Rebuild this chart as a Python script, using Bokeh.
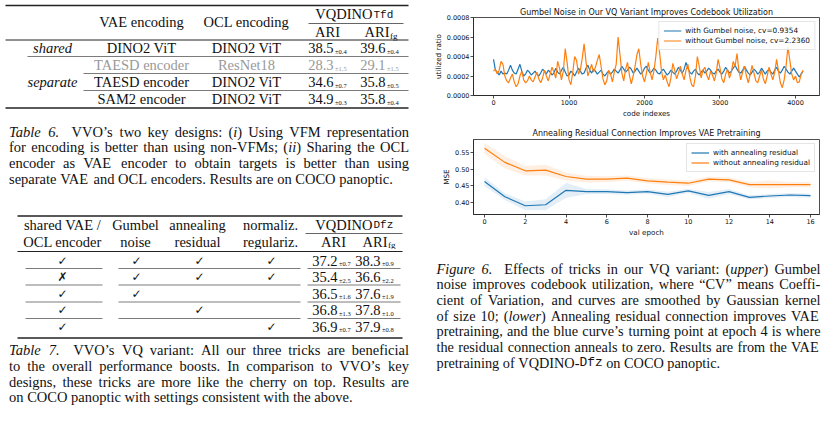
import numpy as np
from bokeh.plotting import figure
from bokeh.models import Range1d, FixedTicker, PrintfTickFormatter
from bokeh.layouts import row, column
from bokeh.core.properties import value
from bokeh.embed import file_html
from bokeh.resources import INLINE

# ---------------- data ----------------
t6_vae = ["DINO2 ViT", "TAESD encoder", "TAESD encoder", "SAM2 encoder"]
t6_ocl = ["DINO2 ViT", "ResNet18", "DINO2 ViT", "DINO2 ViT"]
t6_ari = [38.5, 28.3, 34.6, 34.9]
t6_ari_sd = [0.4, 1.5, 0.7, 0.3]
t6_arifg = [39.6, 29.1, 35.8, 35.8]
t6_arifg_sd = [0.4, 1.5, 0.5, 0.4]

t7_shared = [True, False, True, True, True]
t7_gumbel = [True, True, True, False, False]
t7_anneal = [True, True, False, True, False]
t7_norm = [True, True, False, False, True]
t7_ari = [37.2, 35.4, 36.5, 36.8, 36.9]
t7_ari_sd = [0.7, 2.5, 1.6, 1.3, 0.7]
t7_arifg = [38.3, 36.6, 37.6, 37.8, 37.9]
t7_arifg_sd = [0.9, 2.2, 1.9, 1.0, 0.8]

# Gumbel chart: code index and utilized ratio (units of 1e-4)
code_idx = list(range(0, 4101, 25))
with_gumbel = [3.7, 2.6, 2.4, 2.1, 2.5, 2.2, 2.3, 2.2, 2.6, 3.1, 2.6, 2.3, 2.2, 2.7, 3.2, 2.5, 2.0, 2.2, 2.6, 2.4,
               2.1, 2.3, 2.5, 2.2, 2.0, 2.3, 2.7, 2.5, 2.2, 2.6, 2.4, 2.1, 2.3, 2.8, 2.4, 2.2, 2.6, 2.9, 2.4, 2.0,
               2.1, 2.5, 2.3, 2.0, 2.4, 2.8, 2.5, 2.2, 2.3, 2.8, 3.1, 2.6, 2.3, 2.7, 2.5, 2.2, 2.4, 2.6, 2.2, 2.0,
               2.3, 2.5, 2.2, 2.4, 2.7, 2.5, 2.3, 2.6, 3.0, 2.7, 2.4, 2.6, 2.9, 2.7, 2.3, 2.5, 2.8, 2.5, 2.2, 2.4,
               2.8, 3.0, 2.6, 2.3, 2.5, 2.8, 2.6, 2.3, 2.2, 2.5, 2.7, 2.4, 2.1, 2.3, 2.6, 2.4, 2.2, 2.5, 2.9, 2.6,
               2.3, 2.7, 3.4, 2.8, 2.4, 2.2, 2.5, 2.7, 2.3, 2.1, 2.4, 2.6, 2.3, 2.5, 2.8, 2.6, 2.3, 2.2, 2.5, 2.7,
               2.4, 2.2, 2.5, 2.9, 2.6, 2.3, 2.5, 2.8, 3.1, 2.7, 2.4, 2.3, 2.6, 3.0, 2.6, 2.3, 2.1, 2.4, 2.7, 2.5,
               2.2, 2.4, 2.8, 2.5, 2.2, 2.5, 2.7, 2.4, 2.2, 2.6, 2.9, 2.5, 2.3, 2.6, 3.0, 2.7, 2.4, 2.2, 2.5, 2.8,
               2.5, 2.2, 1.9, 2.2, 2.5]
without_gumbel = [2.5, 2.7, 2.2, 2.6, 3.5, 3.2, 2.0, 1.5, 1.3, 1.8, 2.2, 1.4, 0.9, 1.2, 2.0, 2.5, 1.6, 1.3, 1.5, 2.0,
                  1.6, 1.4, 1.9, 2.4, 1.7, 1.3, 1.8, 2.6, 2.0, 1.5, 2.2, 2.9, 2.4, 1.8, 3.5, 2.8, 1.6, 2.5, 4.8, 3.4,
                  1.6, 1.1, 2.4, 4.0, 3.6, 2.2, 2.6, 3.8, 5.3, 3.5, 2.0, 2.6, 3.2, 2.4, 2.9, 3.6, 4.2, 3.0, 1.7, 1.1,
                  1.5, 2.6, 2.2, 1.4, 2.4, 3.2, 6.0, 4.2, 2.3, 1.5, 2.7, 3.4, 2.1, 1.2, 2.0, 3.0, 4.2, 4.8, 3.2, 2.0,
                  1.4, 2.3, 3.4, 2.4, 1.6, 2.5, 4.0, 5.9, 4.4, 2.5, 1.6, 2.1, 1.4, 0.9, 1.8, 3.3, 2.6, 1.7, 2.3, 3.0,
                  2.2, 1.6, 2.6, 3.2, 1.9, 1.1, 0.9, 2.0, 4.0, 3.0, 1.8, 2.6, 2.9, 2.1, 1.6, 2.5, 2.1, 1.5, 2.3, 3.7,
                  2.8, 1.7, 1.3, 2.2, 2.7, 1.8, 2.4, 3.5, 3.0, 4.3, 2.6, 1.6, 2.4, 3.0, 2.0, 1.3, 2.2, 3.1, 2.3, 1.5,
                  1.3, 2.0, 2.6, 1.7, 1.2, 2.0, 2.9, 2.2, 1.6, 2.4, 3.7, 2.5, 1.3, 0.8, 1.6, 3.0, 5.0, 3.6, 2.2, 1.6,
                  2.0, 1.3, 1.4, 2.2, 2.6]

# Annealing chart
epochs = list(range(17))
mse_with = [0.463, 0.418, 0.391, 0.394, 0.437, 0.433, 0.433, 0.430, 0.433, 0.425, 0.435, 0.422, 0.433, 0.416, 0.420, 0.423, 0.421]
mse_with_sd = [0.013, 0.010, 0.013, 0.016, 0.022, 0.008, 0.007, 0.006, 0.006, 0.008, 0.006, 0.010, 0.008, 0.006, 0.006, 0.006, 0.006]
mse_without = [0.562, 0.520, 0.495, 0.497, 0.478, 0.470, 0.470, 0.473, 0.465, 0.461, 0.458, 0.470, 0.468, 0.454, 0.454, 0.454, 0.454]
mse_without_sd = [0.016, 0.018, 0.014, 0.016, 0.012, 0.010, 0.009, 0.008, 0.008, 0.008, 0.008, 0.007, 0.007, 0.008, 0.012, 0.008, 0.008]

cap_t6 = ["*Table 6.*  VVO’s two key designs: (*i*) Using VFM representation",
          "for encoding is better than using non-VFMs; (*ii*) Sharing the OCL",
          "encoder as VAE encoder to obtain targets is better than using",
          "separate VAE and OCL encoders. Results are on COCO panoptic."]
cap_t7 = ["*Table 7.*  VVO’s VQ variant: All our three tricks are beneficial",
          "to the overall performance boosts. In comparison to VVO’s key",
          "designs, these tricks are more like the cherry on top. Results are",
          "on COCO panoptic with settings consistent with the above."]
cap_f6 = ["*Figure 6.*  Effects of tricks in our VQ variant: (*upper*) Gumbel",
          "noise improves codebook utilization, where “CV” means Coeffi-",
          "cient of Variation, and curves are smoothed by Gaussian kernel",
          "of size 10; (*lower*) Annealing residual connection improves VAE",
          "pretraining, and the blue curve’s turning point at epoch 4 is where",
          "the residual connection anneals to zero. Results are from the VAE",
          "pretraining of VQDINO-`Dfz` on COCO panoptic."]

# ---------------- text helpers ----------------
SERIF = "Liberation Serif"
MONO = "Liberation Mono"
SANS = "DejaVu Sans"
INK = "#111111"
FS = 14.5
SPLIT = 249  # page y where the upper row ends and the full-width lower band starts

ROMAN = {' ': .25, '!': .333, '"': .408, "'": .18, '(': .333, ')': .333, '+': .564, ',': .25, '-': .333, '.': .25,
         '/': .278, ':': .278, ';': .278, '?': .444, 'A': .722, 'B': .667, 'C': .667, 'D': .722, 'E': .611, 'F': .556,
         'G': .722, 'H': .722, 'I': .333, 'J': .389, 'K': .722, 'L': .611, 'M': .889, 'N': .722, 'O': .722, 'P': .556,
         'Q': .722, 'R': .667, 'S': .556, 'T': .611, 'U': .722, 'V': .722, 'W': .944, 'X': .722, 'Y': .722, 'Z': .611,
         'a': .444, 'b': .5, 'c': .444, 'd': .5, 'e': .444, 'f': .333, 'g': .5, 'h': .5, 'i': .278, 'j': .278, 'k': .5,
         'l': .278, 'm': .778, 'n': .5, 'o': .5, 'p': .5, 'q': .5, 'r': .333, 's': .389, 't': .278, 'u': .5, 'v': .5,
         'w': .722, 'x': .5, 'y': .5, 'z': .444, '“': .444, '”': .444, '’': .333, '‘': .333, '±': .564}
ITAL = {' ': .25, '.': .25, ',': .25, '(': .333, ')': .333, 'F': .611, 'T': .556, 'a': .5, 'b': .5, 'c': .444,
        'd': .5, 'e': .444, 'f': .278, 'g': .5, 'h': .5, 'i': .278, 'k': .444, 'l': .278, 'm': .722, 'n': .5, 'o': .5,
        'p': .5, 'r': .389, 's': .389, 't': .278, 'u': .5, 'w': .667}


class Store:
    """Collects texts and rules, routing each to the upper-left or lower band figure by page y."""
    def __init__(self):
        self.d = {}
        self.segs = []

    def add(self, x, y, t, font=SERIF, style="normal", size=FS, color=INK, align="left"):
        part = "top" if y < SPLIT else "bottom"
        key = (part, font, style, size, color, align)
        xs, ys, ts = self.d.setdefault(key, ([], [], []))
        xs.append(x); ys.append(y); ts.append(t)

    def rule(self, x0, x1, y, w):
        self.segs.append(("top" if y < SPLIT else "bottom", x0, x1, y, w))

    def render(self, figs):
        for (part, font, style, size, color, align), (xs, ys, ts) in self.d.items():
            figs[part].text(x=xs, y=ys, text=ts, text_font=value(font), text_font_style=style,
                            text_font_size=f"{size}px", text_color=color, text_align=align,
                            text_baseline="middle")
        for part, x0, x1, y, w in self.segs:
            figs[part].segment(x0=[x0], y0=[y], x1=[x1], y1=[y], line_color="#222222", line_width=w)


def piece_width(t, st, size):
    if st == "m":
        return len(t) * 0.6 * size * 0.9
    tab = ITAL if st == "i" else ROMAN
    return sum(tab.get(c, 0.5) for c in t) * size


def parse(line):
    words, cur, buf, style, nsp = [], [], "", "r", 0
    for ch in line + " ":
        if ch in "*`":
            if buf:
                cur.append((buf, style)); buf = ""
            tgt = "i" if ch == "*" else "m"
            style = "r" if style == tgt else tgt
        elif ch == " ":
            if buf:
                cur.append((buf, style)); buf = ""
            if cur:
                words.append((nsp, cur)); cur = []; nsp = 0
            nsp += 1
        else:
            buf += ch
    return words


def typeset(store, lines, x0, width, y0, lead, size=FS):
    for li, line in enumerate(lines):
        words = parse(line)
        widths = [sum(piece_width(t, s, size) for t, s in pcs) for _, pcs in words]
        gaps = sum(n for n, _ in words[1:])
        sp = 0.25 * size
        if li < len(lines) - 1:
            sp = max((width - sum(widths)) / gaps, 0.18 * size)
        y = y0 + li * lead
        x = x0
        for wi, ((n, pcs), w) in enumerate(zip(words, widths)):
            if wi > 0:
                x += n * sp
            xx = x
            for t, s in pcs:
                if s == "m":
                    store.add(xx, y, t, font=MONO, size=round(size * 0.9, 2))
                else:
                    store.add(xx, y, t, style="italic" if s == "i" else "normal", size=size)
                xx += piece_width(t, s, size)
            x += w


def text_fig(x0, x1, y0, y1):
    f = figure(width=x1 - x0, height=y1 - y0, x_range=Range1d(x0, x1), y_range=Range1d(y1, y0),
               output_backend="svg", toolbar_location=None, x_axis_location=None, y_axis_location=None,
               min_border_left=0, min_border_right=0, min_border_top=0, min_border_bottom=0)
    f.grid.grid_line_color = None
    f.outline_line_color = None
    f.background_fill_color = "white"
    f.border_fill_color = "white"
    return f


def num_cell(store, xr, y, v, sd, color=INK):
    store.add(xr, y, f"{v:.1f}", align="right", color=color)
    store.add(xr + 1.5, y + 3, f"±{sd:.1f}", size=6.5, color=color)


# ---------------- tables + captions (page coordinates) ----------------
S = Store()

# Table 6
for seg in [(5, 408, 5, 1.6), (308, 403, 23, 0.7), (5, 408, 39.5, 1.0), (27, 408, 56, 0.6),
            (83, 408, 73, 0.6), (83, 408, 90, 0.6), (5, 408, 107.5, 1.6)]:
    S.rule(*seg)
S.add(141, 21, "VAE encoding", align="center")
S.add(246, 21, "OCL encoding", align="center")
S.add(372, 13.5, "VQDINO", align="right")
S.add(373, 14, "Tfd", font=MONO, size=11)
S.add(327, 31.5, "ARI", align="center")
S.add(389, 31.5, "ARI", align="right")
S.add(389.5, 35, "fg", size=9)
S.add(52, 47.5, "shared", style="italic", align="center")
S.add(52, 81.5, "separate", style="italic", align="center")
t6_y = [47.5, 64.5, 81.5, 98.5]
for i, y in enumerate(t6_y):
    col = "#999999" if i == 1 else INK
    S.add(141, y, t6_vae[i], align="center", color=col)
    S.add(246, y, t6_ocl[i], align="center", color=col)
    num_cell(S, 333, y, t6_ari[i], t6_ari_sd[i], col)
    num_cell(S, 385, y, t6_arifg[i], t6_arifg_sd[i], col)

typeset(S, cap_t6, 8.5, 400, 131, 15.7)

# Table 7
for seg in [(17, 402, 215.5, 1.6), (305, 402, 233, 0.7), (17, 402, 251, 1.0), (17, 402, 337.5, 1.6)]:
    S.rule(*seg)
for y in [268, 284.5, 301.5, 318]:
    S.rule(25, 102, y, 0.6); S.rule(118, 300, y, 0.6); S.rule(307, 400, y, 0.6)
S.add(62, 224, "shared VAE /", align="center")
S.add(62, 241.5, "OCL encoder", align="center")
S.add(135, 224, "Gumbel", align="center")
S.add(135, 241.5, "noise", align="center")
S.add(197, 224, "annealing", align="center")
S.add(197, 241.5, "residual", align="center")
S.add(270, 224, "normaliz.", align="center")
S.add(270, 241.5, "regulariz.", align="center")
S.add(372, 224, "VQDINO", align="right")
S.add(373, 224.5, "Dfz", font=MONO, size=11)
S.add(333, 241.5, "ARI", align="center")
S.add(387, 241.5, "ARI", align="right")
S.add(387.5, 244.5, "fg", size=9)
t7_y = [260, 276.5, 293, 309.5, 326]
for i, y in enumerate(t7_y):
    for xc, flag in zip([62, 136, 199, 271], [t7_shared[i], t7_gumbel[i], t7_anneal[i], t7_norm[i]]):
        if flag:
            S.add(xc, y, "✓", font=SANS, size=12, align="center")
        elif xc == 62:
            S.add(xc, y, "✗", font=SANS, size=12, align="center")
    num_cell(S, 337, y, t7_ari[i], t7_ari_sd[i])
    num_cell(S, 380, y, t7_arifg[i], t7_arifg_sd[i])

typeset(S, cap_t7, 8.5, 400, 349.5, 15.8)

# Figure 6 caption (right column, lower band)
typeset(S, cap_f6, 436, 384, 268, 15.7, size=14.3)

top_left = text_fig(0, 422, 0, SPLIT)
bottom = text_fig(0, 822, SPLIT, 411)
S.render({"top": top_left, "bottom": bottom})


# ---------------- charts ----------------
BLUE = "#1f77b4"
ORANGE = "#ff7f0e"


def style_chart(c, standoff):
    c.grid.grid_line_color = None
    c.outline_line_color = "#222222"
    c.outline_line_width = 0.8
    c.background_fill_color = "white"
    c.border_fill_color = "white"
    c.title.align = "center"
    c.title.text_font = SANS
    c.title.text_font_size = "8px"
    c.title.text_font_style = "normal"
    c.title.text_color = "#111111"
    c.title.standoff = standoff
    c.title.offset = 0
    for ax in (c.xaxis[0], c.yaxis[0]):
        ax.axis_line_color = "#222222"
        ax.axis_line_width = 0.8
        ax.major_tick_line_color = "#222222"
        ax.major_tick_line_width = 0.8
        ax.major_tick_out = 3
        ax.major_tick_in = 0
        ax.minor_tick_line_color = None
        ax.major_label_text_font = SANS
        ax.major_label_text_font_size = "6.5px"
        ax.major_label_text_color = "#111111"
        ax.major_label_standoff = 1
        ax.axis_label_text_font = SANS
        ax.axis_label_text_font_size = "7.2px"
        ax.axis_label_text_font_style = "normal"
        ax.axis_label_text_color = "#111111"
        ax.axis_label_standoff = 1


def style_legend(c):
    lg = c.legend[0]
    lg.location = "top_right"
    lg.margin = 4
    lg.padding = 4
    lg.spacing = 1
    lg.label_height = 9
    lg.glyph_height = 9
    lg.glyph_width = 18
    lg.label_standoff = 4
    lg.label_text_font = SANS
    lg.label_text_font_size = "7.3px"
    lg.label_text_color = "#111111"
    lg.border_line_color = "#cccccc"
    lg.border_line_width = 0.8
    lg.background_fill_alpha = 0.85


# Chart 1: Gumbel noise (page y 0..120, frame x 473..819)
c1 = figure(width=400, height=120, x_range=Range1d(-265, 4318), y_range=Range1d(0, 0.0008),
            title="Gumbel Noise in Our VQ Variant Improves Codebook Utilization",
            output_backend="svg", toolbar_location=None,
            min_border_left=51, min_border_right=3, min_border_top=17, min_border_bottom=25)
c1.line(code_idx, np.array(with_gumbel) * 1e-4, line_color=BLUE, line_width=1.2,
        legend_label="with Gumbel noise, cv=0.9354")
c1.line(code_idx, np.array(without_gumbel) * 1e-4, line_color=ORANGE, line_width=1.2,
        legend_label="without Gumbel noise, cv=2.2360")
style_chart(c1, 2)
c1.xaxis.ticker = FixedTicker(ticks=[0, 1000, 2000, 3000, 4000])
c1.yaxis.ticker = FixedTicker(ticks=[0, 0.0002, 0.0004, 0.0006, 0.0008])
c1.yaxis.formatter = PrintfTickFormatter(format="%.4f")
c1.xaxis.axis_label = "code indexes"
c1.yaxis.axis_label = "utilized ratio"
style_legend(c1)

# Chart 2: annealing residual (page y 120..249, frame x 473..819)
c2 = figure(width=400, height=SPLIT - 120, x_range=Range1d(-0.54, 16.44), y_range=Range1d(0.365, 0.588),
            title="Annealing Residual Connection Improves VAE Pretraining",
            output_backend="svg", toolbar_location=None,
            min_border_left=51, min_border_right=3, min_border_top=19, min_border_bottom=35)
w_arr, ws = np.array(mse_with), np.array(mse_with_sd)
o_arr, osd = np.array(mse_without), np.array(mse_without_sd)
c2.varea(x=epochs, y1=w_arr - ws, y2=w_arr + ws, fill_color=BLUE, fill_alpha=0.12)
c2.varea(x=epochs, y1=o_arr - osd, y2=o_arr + osd, fill_color=ORANGE, fill_alpha=0.12)
c2.line(epochs, mse_with, line_color=BLUE, line_width=1.2, legend_label="with annealing residual")
c2.line(epochs, mse_without, line_color=ORANGE, line_width=1.2, legend_label="without annealing residual")
style_chart(c2, 4)
c2.xaxis.ticker = FixedTicker(ticks=list(range(0, 17, 2)))
c2.yaxis.ticker = FixedTicker(ticks=[0.40, 0.45, 0.50, 0.55])
c2.yaxis.formatter = PrintfTickFormatter(format="%.2f")
c2.xaxis.axis_label = "val epoch"
c2.yaxis.axis_label = "MSE"
style_legend(c2)

page = column(row(top_left, column(c1, c2)), bottom)
open("out.html", "w").write(file_html(page, INLINE))
